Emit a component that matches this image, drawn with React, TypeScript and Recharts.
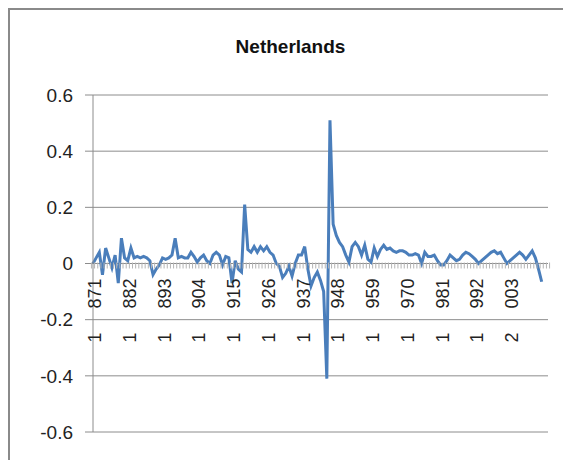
import React from 'react';
import { LineChart, Line, XAxis, YAxis, CartesianGrid, ReferenceLine } from 'recharts';

const firstYear = 1871;
// yearly values, 1871 .. 2015 (last two years empty)
const values: (number | null)[] = [
  0.0, 0.02, 0.04, -0.04, 0.055, 0.02, -0.015, 0.03, -0.07, 0.09,
  0.02, 0.01, 0.055, 0.02, 0.025, 0.02, 0.025, 0.02, 0.01, -0.04,
  -0.02, -0.005, 0.02, 0.015, 0.02, 0.03, 0.09, 0.02, 0.025, 0.02,
  0.02, 0.04, 0.025, 0.005, 0.02, 0.03, 0.01, 0.0, 0.03, 0.04,
  0.03, -0.005, 0.025, 0.02, -0.07, 0.01, -0.02, -0.03, 0.21, 0.05,
  0.04, 0.06, 0.04, 0.06, 0.045, 0.06, 0.04, 0.03, 0.0, -0.01,
  -0.05, -0.035, -0.01, -0.045, 0.0, 0.03, 0.03, 0.06, -0.02, -0.08,
  -0.05, -0.03, -0.06, -0.1, -0.41, 0.51, 0.14, 0.1, 0.075, 0.06,
  0.03, 0.005, 0.06, 0.075, 0.06, 0.03, 0.065, 0.015, 0.005, 0.055,
  0.025, 0.05, 0.065, 0.05, 0.055, 0.045, 0.04, 0.045, 0.045, 0.04,
  0.03, 0.03, 0.035, 0.03, 0.0, 0.04, 0.025, 0.025, 0.03, 0.01,
  -0.005, -0.005, 0.01, 0.03, 0.02, 0.01, 0.015, 0.03, 0.04, 0.035,
  0.025, 0.015, 0.0, 0.01, 0.02, 0.03, 0.04, 0.045, 0.035, 0.04,
  0.02, 0.0, 0.01, 0.02, 0.03, 0.04, 0.03, 0.015, 0.03, 0.045,
  0.02, -0.02, -0.065, null, null,
];

const years: number[] = values.map((_, i) => firstYear + i);

const tickLabels: string[] = [
  '1\u2003\u2004871', '1\u2003\u2004882', '1\u2003\u2004893', '1\u2003\u2004904', '1\u2003\u2004915',
  '1\u2003\u2004926', '1\u2003\u2004937', '1\u2003\u2004948', '1\u2003\u2004959', '1\u2003\u2004970',
  '1\u2003\u2004981', '1\u2003\u2004992', '2\u2003\u2004003',
];
const labelEvery = 11;

const yTicks: number[] = [-0.6, -0.4, -0.2, 0, 0.2, 0.4, 0.6];
const Y_MIN = -0.6;
const Y_MAX = 0.6;

const data = years.map((year, i) => ({ year, value: values[i] }));

const CHART_W = 561;
const CHART_H = 450;
const X_AXIS_H = 1;
const MARGIN = { top: 85, right: 23, bottom: 27, left: 0 };
const Y_AXIS_W = 83;
const PLOT_H = CHART_H - MARGIN.top - MARGIN.bottom - X_AXIS_H;
const PLOT_W = CHART_W - MARGIN.left - MARGIN.right - Y_AXIS_W;

const FONT = '"Liberation Sans", Arial, sans-serif';
const GRID = '#8c8c8c';
const LINE = '#4A7EBB';

const XTick = (props: any) => {
  const { x, y, index } = props;
  const axisTop = y - X_AXIS_H;
  const zeroY = axisTop - (PLOT_H * (0 - Y_MIN)) / (Y_MAX - Y_MIN);
  const bw = PLOT_W / years.length;
  const label = index % labelEvery === 0 ? tickLabels[index / labelEvery] : undefined;
  return (
    <g>
      <line x1={x - bw / 2} x2={x - bw / 2} y1={zeroY} y2={zeroY + 6} stroke="#b4b4b4" strokeWidth={1} />
      {index === years.length - 1 && (
        <line x1={x + bw / 2} x2={x + bw / 2} y1={zeroY} y2={zeroY + 6} stroke="#b4b4b4" strokeWidth={1} />
      )}
      {label !== undefined && (
        <text
          x={0}
          y={0}
          transform={`translate(${x + 2},${zeroY + 16}) rotate(-90)`}
          textAnchor="end"
          dominantBaseline="central"
          fontFamily={FONT}
          fontSize={18}
          fill="#222"
          style={{ whiteSpace: 'pre' }}
        >
          {label}
        </text>
      )}
    </g>
  );
};

export default function App() {
  return (
    <div
      style={{
        position: 'relative',
        width: 563,
        height: 452,
        borderLeft: '2px solid #8a8a8a',
        borderTop: '2px solid #8a8a8a',
        background: '#fff',
        boxSizing: 'border-box',
      }}
    >
      <div
        style={{
          position: 'absolute',
          top: 26,
          left: 0,
          width: 561,
          textAlign: 'center',
          fontFamily: FONT,
          fontWeight: 'bold',
          fontSize: 19,
          color: '#111',
        }}
      >
        Netherlands
      </div>
      <LineChart width={CHART_W} height={CHART_H} data={data} margin={MARGIN}>
        <CartesianGrid vertical={false} stroke={GRID} />
        <YAxis
          type="number"
          domain={[Y_MIN, Y_MAX]}
          ticks={yTicks}
          width={Y_AXIS_W}
          axisLine={{ stroke: GRID }}
          tickLine={{ stroke: GRID }}
          tickSize={8}
          tickMargin={12}
          tickFormatter={(v: number) => (v === 0 ? '0' : v.toFixed(1))}
          tick={{ fontFamily: FONT, fontSize: 19, fill: '#222' }}
          interval={0}
        />
        <XAxis
          dataKey="year"
          type="category"
          interval={0}
          height={X_AXIS_H}
          tickLine={false}
          axisLine={false}
          tickSize={0}
          tickMargin={0}
          minTickGap={0}
          tick={<XTick />}
        />
        <ReferenceLine y={0} stroke={GRID} strokeWidth={1} />
        <Line
          type="linear"
          dataKey="value"
          stroke={LINE}
          strokeWidth={3}
          dot={false}
          isAnimationActive={false}
          connectNulls={false}
        />
      </LineChart>
    </div>
  );
}
